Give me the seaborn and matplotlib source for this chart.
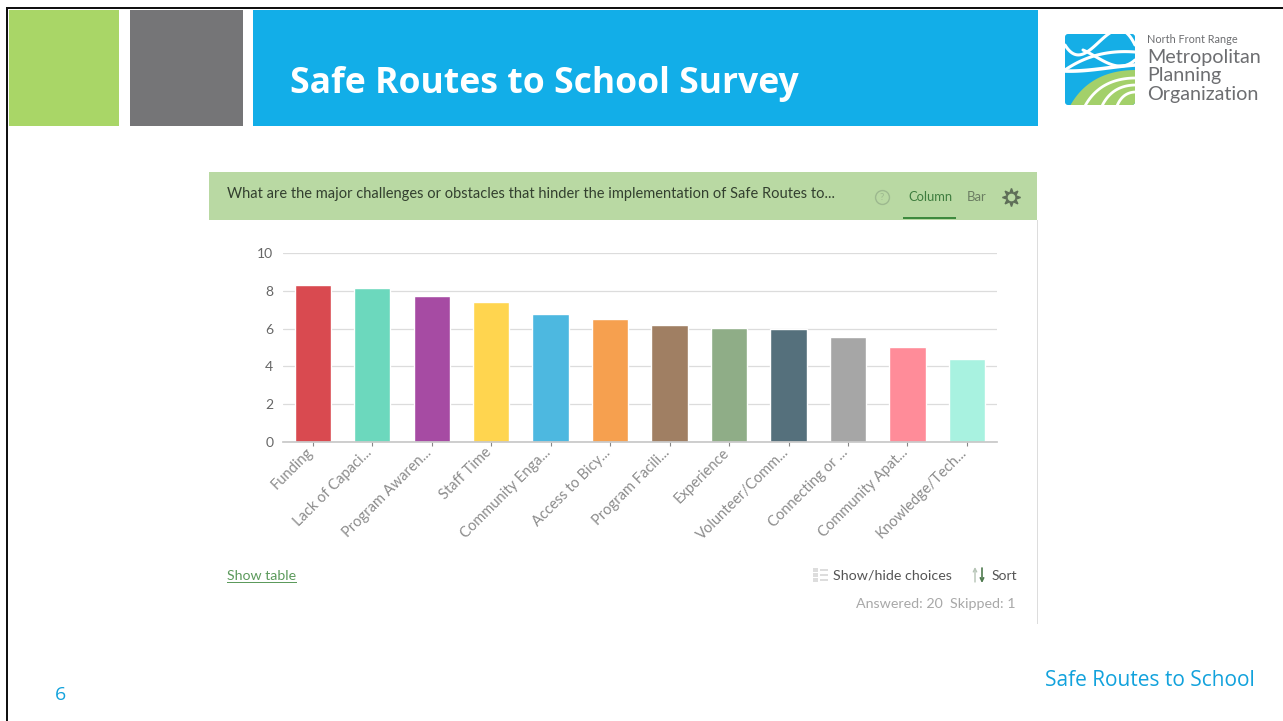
import numpy as np
import pandas as pd
import matplotlib
matplotlib.use("Agg")
import matplotlib.pyplot as plt
from matplotlib.patches import Rectangle, FancyBboxPatch, Polygon
from matplotlib.transforms import ScaledTranslation
import seaborn as sns

# chart values
categories = ['Funding', 'Lack of Capaci...', 'Program Awaren...', 'Staff Time', 'Community Enga...',
              'Access to Bicy...', 'Program Facili...', 'Experience', 'Volunteer/Comm...',
              'Connecting or ...', 'Community Apat...', 'Knowledge/Tech...']
scores = [8.3, 8.15, 7.7, 7.4, 6.75, 6.5, 6.2, 6.05, 6.0, 5.55, 5.0, 4.4]
bar_colors = ['#D94A50', '#6CD8BD', '#A64BA3', '#FFD54F', '#4DB8E0', '#F6A04F',
              '#A07F63', '#8FAD87', '#55707C', '#A6A6A6', '#FF8C99', '#A8F2E0']
y_ticks = [0, 2, 4, 6, 8, 10]

W, H = 1283, 721
sns.set_theme(style="white")
plt.rcParams['font.family'] = ['Lato', 'DejaVu Sans']

fig = plt.figure(figsize=(W / 100, H / 100), dpi=100, facecolor='white')

# slide background in pixel coordinates
bg = fig.add_axes([0, 0, 1, 1])
bg.set_xlim(0, W)
bg.set_ylim(H, 0)
bg.axis('off')


def box(x0, y0, x1, y1, color, z=1):
    bg.add_patch(Rectangle((x0, y0), x1 - x0, y1 - y0, fc=color, ec='none', zorder=z))


def arc(xb, yr):
    # curve of the logo's field, from the bottom edge up to the right edge
    s = np.linspace(0, 1, 40)[:, None]
    p0, p1, p2 = np.array([xb, 106.0]), np.array([xb + (1136 - xb) * 0.3, yr]), np.array([1136.0, yr])
    return (1 - s) ** 2 * p0 + 2 * s * (1 - s) * p1 + s ** 2 * p2


# slide frame and title blocks
box(6, 7, W, 9, '#111111')
box(6, 7, 8, H, '#111111')
box(9, 10, 119, 126, '#A9D667')
box(130, 10, 243, 126, '#757577')
box(253, 10, 1038, 126, '#12AEE8')
bg.text(290, 83.5, 'Safe Routes to School Survey', color='white', fontsize=25.6, fontweight='bold',
        family=['Open Sans', 'DejaVu Sans'], va='center', ha='left')

# logo
logo_clip = FancyBboxPatch((1068, 37), 64, 65, boxstyle='round,pad=3', fc='#15AEE6', ec='none', zorder=2)
bg.add_patch(logo_clip)
strands = [([1065, 1083, 1107, 1135], [45, 54, 35, 45], 2.2),
           ([1065, 1083, 1107, 1135], [70, 60, 53, 52], 2.2),
           ([1083, 1098, 1113, 1135], [50, 58, 65, 60], 2.2),
           ([1065, 1090, 1115, 1135], [71, 70, 67, 65], 2.6)]
for sx, sy, lw in strands:
    t = np.linspace(sx[0], sx[-1], 80)
    ln, = bg.plot(t, np.polyval(np.polyfit(sx, sy, 3), t), color='white', lw=lw, zorder=3)
    ln.set_clip_path(logo_clip)
edge = arc(1070, 70)
field = Polygon(np.vstack([edge, [[1136, 106]]]), fc='#A3D06A', ec='none', zorder=3)
bg.add_patch(field)
field.set_clip_path(logo_clip)
for xb, yr in [(1085, 78), (1102, 85), (1117, 92)]:
    a = arc(xb, yr)
    ln, = bg.plot(a[:, 0], a[:, 1], color='white', lw=2.0, zorder=4)
    ln.set_clip_path(logo_clip)
bg.text(1147, 39.5, 'North Front Range', color='#6D6E71', fontsize=7.8, va='center', ha='left')
for yy, word in [(57, 'Metropolitan'), (76, 'Planning'), (94.5, 'Organization')]:
    bg.text(1147, yy, word, color='#6D6E71', fontsize=14.2, va='center', ha='left')

# survey widget header
box(209, 172, 1037, 220, '#B9D9A3')
box(1037, 220, 1038, 624, '#DDDDDD')
box(903, 217, 956, 219, '#3E8A3E', 2)
bg.text(227, 194, 'What are the major challenges or obstacles that hinder the implementation of Safe Routes to...',
        color='#33402F', fontsize=10.55, va='center', ha='left')
bg.plot([881.5], [197], marker='o', ms=10, mfc='none', mec='#9DB98F', mew=1, zorder=3)
bg.text(881.5, 197, '?', color='#9DB98F', fontsize=7, ha='center', va='center', zorder=3)
bg.text(908, 197, 'Column', color='#3E7D3E', fontsize=9.4, va='center', ha='left')
bg.text(967, 197, 'Bar', color='#6B7D62', fontsize=9.4, va='center', ha='left')
bg.plot([1011], [197], marker=(8, 1, 0), ms=13, color='#5E6E58', zorder=3)
bg.plot([1011], [197], marker='o', ms=4.5, color='#B9D9A3', zorder=4)

# the bar chart itself
x0, x1, y_top, y_bottom = 283.0, 996.7, 253, 442
ax = fig.add_axes([x0 / W, 1 - y_bottom / H, (x1 - x0) / W, (y_bottom - y_top) / H])
ax.patch.set_alpha(0)
df = pd.DataFrame({'category': categories, 'score': scores})
sns.barplot(data=df, x='category', y='score', hue='category', palette=bar_colors, dodge=False,
            legend=False, width=0.61, saturation=1, ax=ax)
ax.set_xlim(-0.5, len(categories) - 0.5)
ax.set_ylim(0, 10)
ax.set_yticks(y_ticks)
ax.set_xlabel('')
ax.set_ylabel('')
ax.grid(axis='y', color='#DCDCDC', lw=0.9)
ax.set_axisbelow(True)
sns.despine(ax=ax, left=True, top=True, right=True)
ax.spines['bottom'].set_color('#C8C8C8')
ax.tick_params(axis='y', length=0, labelsize=10, labelcolor='#666666', pad=7)
ax.tick_params(axis='x', length=3, width=0.8, color='#888888', bottom=True, pad=1)
ax.set_xticks(range(len(categories)))
ax.set_xticklabels(categories, rotation=45, ha='right', rotation_mode='anchor', fontsize=10.5, color='#8C8C8C')
shift = ScaledTranslation(-7 / 100, 2 / 100, fig.dpi_scale_trans)
for lab in ax.get_xticklabels():
    lab.set_transform(lab.get_transform() + shift)

# widget footer
bg.text(227, 575.5, 'Show table', color='#5C9A5C', fontsize=10.2, va='center', ha='left')
box(227, 582, 297, 583, '#5C9A5C')
for yy in [568, 573, 578]:
    box(813, yy, 818, yy + 4, '#DDDDDD')
    box(820, yy + 1, 828, yy + 3, '#DDDDDD')
bg.text(833, 575.5, 'Show/hide choices', color='#555555', fontsize=10.3, va='center', ha='left')
bg.annotate('', xy=(975, 567), xytext=(975, 582), arrowprops=dict(arrowstyle='->', color='#B5C4B5', lw=1, shrinkA=0, shrinkB=0, mutation_scale=6))
bg.annotate('', xy=(982, 583), xytext=(982, 568), arrowprops=dict(arrowstyle='->', color='#4F7A4F', lw=1.2, shrinkA=0, shrinkB=0, mutation_scale=6))
bg.text(992, 575.5, 'Sort', color='#555555', fontsize=10, va='center', ha='left')
bg.text(1016, 604.5, 'Answered: 20  Skipped: 1', color='#A8A8A8', fontsize=10.3, va='center', ha='right')

# slide footer
bg.text(60, 695, '6', color='#12A2DC', fontsize=14, family=['Open Sans', 'DejaVu Sans'], va='center', ha='center')
bg.text(1254.5, 680.5, 'Safe Routes to School', color='#12A2DC', fontsize=15, family=['Open Sans', 'DejaVu Sans'], va='center', ha='right')

fig.savefig('out.png', dpi=100)
